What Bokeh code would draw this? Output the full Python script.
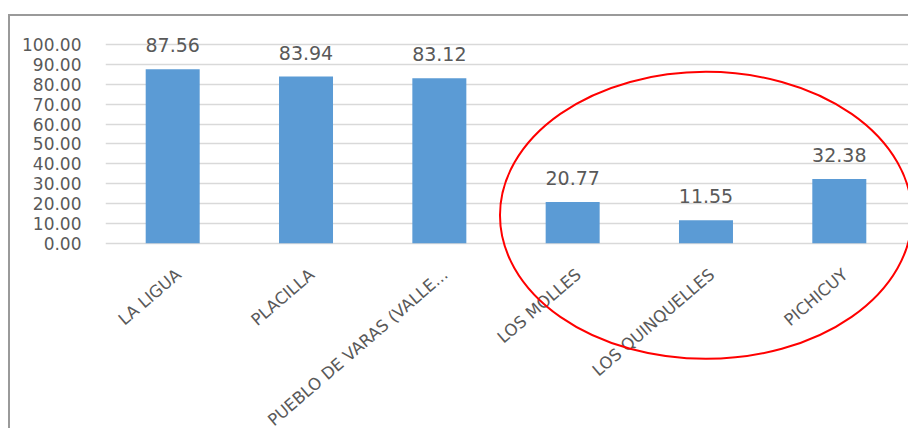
from bokeh.plotting import figure
from bokeh.models import Range1d, FixedTicker, NumeralTickFormatter, ColumnDataSource
from bokeh.core.properties import value
from bokeh.embed import file_html
from bokeh.resources import INLINE

# ---- data ----
categories = ["LA LIGUA", "PLACILLA", "PUEBLO DE VARAS (VALLE...", "LOS MOLLES", "LOS QUINQUELLES", "PICHICUY"]
values = [87.56, 83.94, 83.12, 20.77, 11.55, 32.38]
value_labels = ["87.56", "83.94", "83.12", "20.77", "11.55", "32.38"]
y_ticks = [0, 10, 20, 30, 40, 50, 60, 70, 80, 90, 100]

# highlight ellipse around the last three localities
highlight_center = "LOS QUINQUELLES"
highlight_y = 14

FONT = "DejaVu Sans"
TEXT_COLOR = "#595959"
BAR_COLOR = "#5b9bd5"

idx = list(range(len(categories)))
src = ColumnDataSource(dict(x=idx, top=values, lab=value_labels, cat=categories))

p = figure(width=900, height=414, output_backend="svg", toolbar_location=None,
           x_range=Range1d(-0.504, 5.534), y_range=Range1d(-94.4, 114.2),
           min_border_left=95, min_border_right=0, min_border_top=0, min_border_bottom=0)
# chart-area border: left and top edges, as in the source document
p.styles = {"border-left": "2px solid #9a9a9a", "border-top": "2px solid #9a9a9a",
            "position": "relative", "left": "8px", "top": "14px"}
p.outline_line_color = None
p.background_fill_color = "white"
p.border_fill_color = "white"

p.xaxis.visible = False
p.xgrid.visible = False

yaxis = p.yaxis[0]
yaxis.ticker = FixedTicker(ticks=y_ticks)
yaxis.formatter = NumeralTickFormatter(format="0.00")
yaxis.axis_line_color = None
yaxis.major_tick_line_color = None
yaxis.minor_tick_line_color = None
yaxis.major_label_standoff = 18
yaxis.major_label_text_font = FONT
yaxis.major_label_text_font_size = "17px"
yaxis.major_label_text_color = TEXT_COLOR
p.ygrid.grid_line_color = "#d9d9d9"
p.ygrid.grid_line_width = 1.5

p.vbar(x="x", top="top", width=0.405, source=src, fill_color=BAR_COLOR, line_color=None)

p.text(x="x", y="top", text="lab", source=src, text_align="center", text_baseline="alphabetic",
       y_offset=-24, text_font=value(FONT), text_font_size="19px", text_color=TEXT_COLOR)

p.text(x="x", y=0, text="cat", source=src, text_align="right", text_baseline="alphabetic",
       angle=0.71, x_offset=6, y_offset=29,
       text_font=value(FONT), text_font_size="16.5px", text_color=TEXT_COLOR)

p.ellipse(x=[categories.index(highlight_center)], y=[highlight_y], width=412, height=287,
          width_units="screen", height_units="screen",
          fill_color=None, line_color="#ff0000", line_width=2)

open("out.html", "w").write(file_html(p, INLINE))
